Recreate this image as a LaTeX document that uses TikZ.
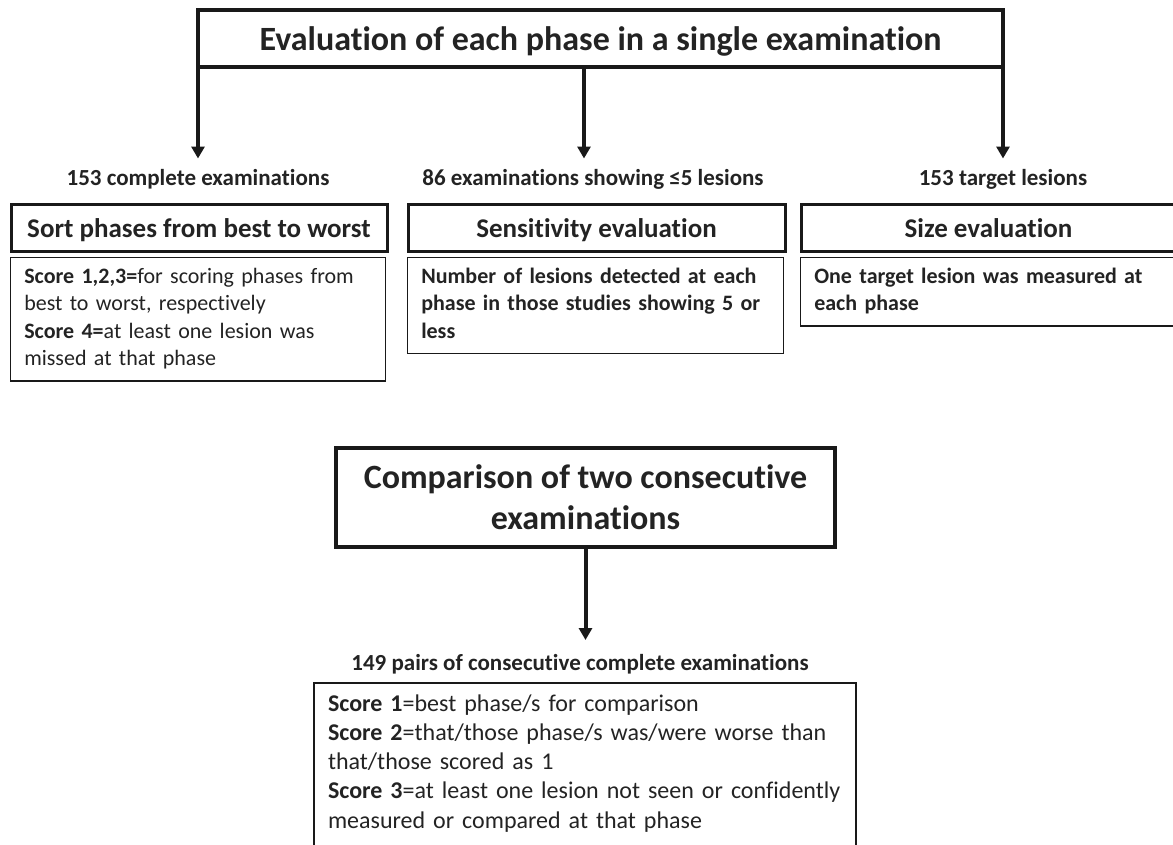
\documentclass[tikz,border=0pt]{standalone}
\usepackage{fontspec}
\setmainfont{Carlito}[Ligatures=CommonOff]
\usetikzlibrary{positioning,arrows.meta}
\definecolor{FlowInk}{RGB}{35,35,35}
\definecolor{FlowLine}{RGB}{25,25,25}

\begin{document}
\begin{tikzpicture}[x=1pt,y=-1pt,
text=FlowInk,
titlebox/.style={rectangle,draw=FlowLine,line width=4pt,align=center,inner sep=0pt,outer sep=0pt,
font=\fontsize{34}{41}\selectfont\bfseries},
headbox/.style={rectangle,draw=FlowLine,line width=3pt,minimum height=47pt,inner sep=0pt,
text height=19pt,text depth=0pt,font=\fontsize{27}{32}\selectfont\bfseries},
descbox/.style={rectangle,draw=FlowLine,line width=1.5pt,align=left,inner xsep=14pt,inner ysep=6.75pt,
font=\fontsize{22}{27.5}\selectfont,execute at begin node=\strut,execute at end node=\strut},
descbold/.style={descbox,font=\fontsize{22}{27.5}\selectfont\bfseries},
countlabel/.style={inner sep=0pt,outer ysep=10.5pt,text height=16pt,text depth=5pt,
font=\fontsize{23}{27}\selectfont\bfseries},
arrow/.style={-{Triangle[width=13pt,length=12pt]},line width=4pt,draw=FlowLine}
]
\useasboundingbox (0,0) rectangle (1173,844);
% single examination
\node[titlebox,minimum width=805pt,minimum height=57pt,text height=24pt,text depth=0pt] (eval) at (600.5,38.5)
{Evaluation of each phase in a single examination};
\node[countlabel] (n1) at (198,179.5) {153 complete examinations};
\node[countlabel] (n2) at (593,179.5) {86 examinations showing ≤5 lesions};
\node[countlabel] (n3) at (1003,179.5) {153 target lesions};
\draw[arrow] (eval.south west) -- (n1);
\draw[arrow] ([xshift=-16.5pt]eval.south) -- ([xshift=-16.5pt]eval.south |- n2.north);
\draw[arrow] (eval.south east) -- (n3);
\node[headbox,minimum width=376pt] (h1) at (199,227.5) {Sort phases from best to worst};
\node[headbox,minimum width=377pt] (h2) at (596.5,227.5) {Sensitivity evaluation};
\node[headbox,minimum width=375pt] (h3) at (988.5,227.5) {Size evaluation};
\node[descbox,text width=347pt,below=4pt of h1.south west,anchor=north west] (d1)
{\textbf{Score 1,2,3=}for scoring phases from\\best to worst, respectively\\\textbf{Score 4=}at least one lesion was\\missed at that phase};
\node[descbold,text width=348pt,below=4pt of h2.south west,anchor=north west] (d2)
{Number of lesions detected at each\\phase in those studies showing 5 or\\less};
\node[descbold,text width=347pt,below=4pt of h3.south west,anchor=north west] (d3)
{One target lesion was measured at\\each phase};
% consecutive examinations
\node[titlebox,minimum width=499pt,minimum height=99pt] (cmp) at (585.5,497.5)
{Comparison of two consecutive\\examinations};
\node[countlabel,outer ysep=14pt] (n4) at (580,664.5) {149 pairs of consecutive complete examinations};
\draw[arrow] (cmp.south) -- (cmp.south |- n4.north);
\node[descbox,text width=514pt,inner ysep=7.5pt,anchor=north west,font=\fontsize{24}{29.3}\selectfont,
execute at begin node={\hyphenpenalty=10000\relax\strut},
execute at end node={\strut\rule[-16pt]{0pt}{16pt}}] (d4) at (313.25,682.25)
{\textbf{Score 1}=best phase/s for comparison\\\textbf{Score 2}=that/those phase/s was/were worse than\\that/those scored as 1\\\textbf{Score 3}=at least one lesion not seen or confidently\\measured or compared at that phase};
\end{tikzpicture}
\end{document}
